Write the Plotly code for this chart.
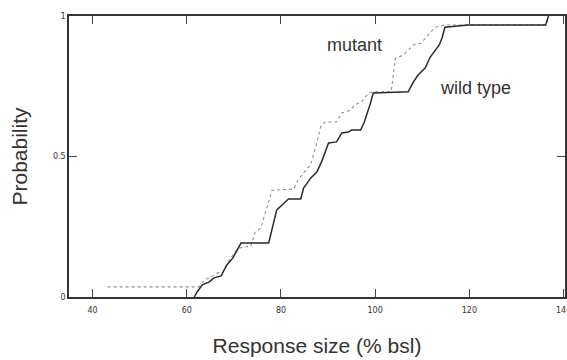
import plotly.graph_objects as go

# Cumulative distributions of response size (% of baseline)
mutant_x = [43.2, 62.6, 63.7, 65.2, 66.4, 67.7, 69.0, 69.8, 70.7, 71.9, 73.6, 74.5, 75.7,
            77.0, 78.1, 82.7, 83.6, 85.2, 86.3, 87.6, 88.4, 89.3, 91.8, 92.9, 94.8, 95.6,
            97.1, 98.6, 99.6, 103.4, 104.3, 106.0, 108.1, 109.8, 111.2, 112.7, 114.8,
            136.2, 136.8]
mutant_y = [0.036, 0.036, 0.06, 0.071, 0.085, 0.089, 0.13, 0.15, 0.17, 0.178, 0.18, 0.23,
            0.245, 0.317, 0.38, 0.384, 0.416, 0.45, 0.47, 0.548, 0.605, 0.623, 0.623, 0.655,
            0.665, 0.683, 0.694, 0.726, 0.73, 0.73, 0.85, 0.861, 0.897, 0.904, 0.932, 0.96,
            0.968, 0.968, 1.0]

wild_x = [61.6, 62.2, 63.3, 64.7, 65.8, 67.3, 68.5, 69.8, 70.7, 71.5, 77.4, 78.3, 79.1,
          80.4, 81.6, 84.2, 84.8, 86.3, 87.6, 88.6, 90.1, 91.8, 92.9, 94.3, 95.0, 96.9,
          97.7, 99.0, 99.6, 107.0, 108.1, 109.1, 110.6, 111.7, 112.7, 113.6, 114.2, 114.8,
          119.7, 136.2, 136.8]
wild_y = [0.0, 0.018, 0.043, 0.053, 0.068, 0.075, 0.114, 0.139, 0.167, 0.192, 0.192, 0.256,
          0.31, 0.33, 0.349, 0.349, 0.388, 0.423, 0.445, 0.48, 0.548, 0.552, 0.584, 0.587,
          0.594, 0.594, 0.623, 0.69, 0.726, 0.73, 0.765, 0.79, 0.815, 0.854, 0.879, 0.897,
          0.922, 0.96, 0.968, 0.968, 1.0]

x_ticks = [40, 60, 80, 100, 120, 140]
y_ticks = [0, 0.5, 1]
y_tick_text = ["0", "0.5", "1"]

fig = go.Figure()
fig.add_trace(go.Scatter(x=mutant_x, y=mutant_y, mode="lines", name="mutant",
                         line=dict(color="#8f8f8f", width=1.1, dash="dot")))
fig.add_trace(go.Scatter(x=wild_x, y=wild_y, mode="lines", name="wild type",
                         line=dict(color="#2a2a2a", width=1.5)))

fig.add_annotation(x=95.6, y=0.897, text="mutant", showarrow=False,
                   font=dict(size=18, color="#333333", family="Liberation Sans"))
fig.add_annotation(x=121.4, y=0.744, text="wild type", showarrow=False,
                   font=dict(size=18, color="#333333", family="Liberation Sans"))

fig.update_layout(
    width=567, height=360,
    margin=dict(l=69, r=2, t=16, b=63),
    paper_bgcolor="white", plot_bgcolor="white",
    showlegend=False,
    font=dict(family="Liberation Sans", color="#333333"),
    xaxis=dict(range=[35, 140.3], tickvals=x_ticks, ticks="inside", ticklen=8,
               tickcolor="#444444", showline=True, linecolor="#333333", linewidth=1.5,
               mirror="ticks", showgrid=False, zeroline=False, ticklabelstandoff=5,
               ticklabeloverflow="allow", automargin=False,
               tickfont=dict(size=8, family="DejaVu Sans", color="#333333"),
               title=dict(text="Response size (% bsl)", font=dict(size=21), standoff=24)),
    yaxis=dict(range=[0, 1], tickvals=y_ticks, ticktext=y_tick_text, ticks="inside",
               ticklen=8, tickcolor="#444444", showline=True, linecolor="#333333",
               linewidth=1.5, mirror="ticks", showgrid=False, zeroline=False,
               automargin=False,
               tickfont=dict(size=8, family="DejaVu Sans", color="#333333"),
               title=dict(text="Probability", font=dict(size=21), standoff=20)),
)

fig.write_html("out.html")
